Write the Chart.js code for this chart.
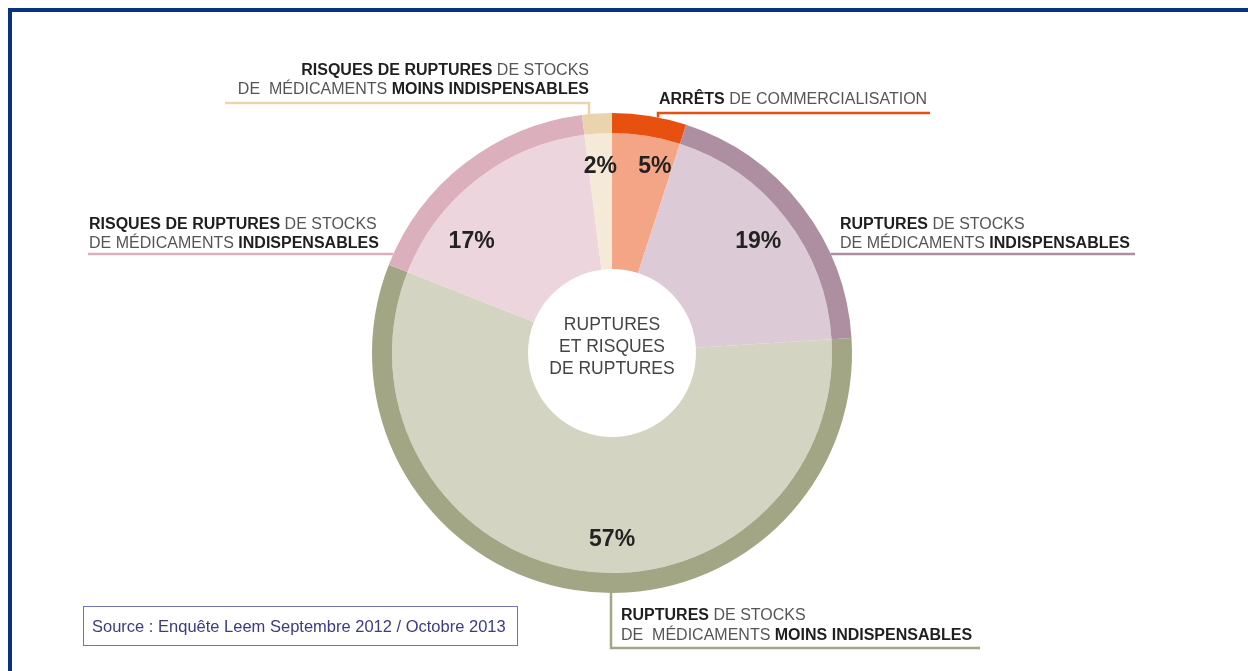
<!DOCTYPE html>
<html lang="fr">
<head>
<meta charset="utf-8">
<title>Ruptures et risques de ruptures</title>
<script src="https://cdn.jsdelivr.net/npm/chart.js@4.4.0/dist/chart.umd.min.js"></script>
<style>
  html, body { margin: 0; padding: 0; background: #fff; }
  #wrap { position: relative; width: 1248px; height: 671px; overflow: hidden; }
  #frame { position: absolute; left: 8px; top: 8px; right: -10px; bottom: -10px;
           border-top: 4px solid #08327f; border-left: 4px solid #08327f; pointer-events: none; }
  #source { position: absolute; left: 83px; top: 606px; width: 433px; height: 38px;
            border: 1.5px solid #7373b9; box-sizing: content-box;
            font: 16.5px Arial, "Liberation Sans", sans-serif; color: #3b3b86;
            line-height: 38px; text-indent: 8px; white-space: nowrap; }
</style>
</head>
<body>
<div id="wrap">
  <canvas id="graficoRuptures"></canvas>
  <div id="source">Source : Enquête Leem Septembre 2012 / Octobre 2013</div>
  <div id="frame"></div>
</div>
<script>
// données
const categories = [
  'Arrêts de commercialisation',
  'Ruptures de stocks de médicaments indispensables',
  'Ruptures de stocks de médicaments moins indispensables',
  'Risques de ruptures de stocks de médicaments indispensables',
  'Risques de ruptures de stocks de médicaments moins indispensables'
];
const parts = [5, 19, 57, 17, 2];
const centerLines = ['RUPTURES', 'ET RISQUES', 'DE RUPTURES'];

// textes des étiquettes : [texte, gras]
const calloutText = [
  [[['ARRÊTS', true], [' DE COMMERCIALISATION', false]]],
  [[['RUPTURES', true], [' DE STOCKS', false]], [['DE MÉDICAMENTS ', false], ['INDISPENSABLES', true]]],
  [[['RUPTURES', true], [' DE STOCKS', false]], [['DE  MÉDICAMENTS ', false], ['MOINS INDISPENSABLES', true]]],
  [[['RISQUES DE RUPTURES', true], [' DE STOCKS', false]], [['DE MÉDICAMENTS ', false], ['INDISPENSABLES', true]]],
  [[['RISQUES DE RUPTURES', true], [' DE STOCKS', false]], [['DE  MÉDICAMENTS ', false], ['MOINS INDISPENSABLES', true]]]
];

// couleurs
const outerColors = ['#e8500f', '#ad8fa1', '#a2a685', '#dcafbd', '#ead4ae'];
const innerColors = ['#f4a585', '#dccad6', '#d3d5c2', '#edd5dd', '#f5e9d7'];

// placement des étiquettes
const pctNudge = [[14, -4], [0, 2], [29, 4], [-27, 35], [0, -2]];
const callouts = [
  { x: 659, y: [104], align: 'left', path: g => [[930, 113], [658, 113], [658, g.top(658)]] },
  { x: 840, y: [229, 248], align: 'left', path: g => [[1135, 254], [g.right(254), 254]] },
  { x: 621, y: [620, 640], align: 'left', path: g => [[980, 648], [611, 648], [611, g.bottom(611)]] },
  { x: 89, y: [229, 248], align: 'left', path: g => [[88, 254], [g.left(254), 254]] },
  { x: 589, y: [75, 94], align: 'right', path: g => [[225, 103], [589, 103], [589, g.top(589)]] }
];

const FONT = 'Arial, "Liberation Sans", sans-serif';

function drawRich(ctx, line, x, y, align) {
  let total = 0;
  line.forEach(([t, b]) => {
    ctx.font = (b ? 'bold ' : '') + '16px ' + FONT;
    total += ctx.measureText(t).width;
  });
  let cx = align === 'right' ? x - total : x;
  line.forEach(([t, b]) => {
    ctx.font = (b ? 'bold ' : '') + '16px ' + FONT;
    ctx.fillStyle = b ? '#1f1f1f' : '#555555';
    ctx.fillText(t, cx, y);
    cx += ctx.measureText(t).width;
  });
}

const annotations = {
  id: 'annotations',
  afterDatasetsDraw(chart) {
    const ctx = chart.ctx;
    const inner = chart.getDatasetMeta(1).data;
    const outer = chart.getDatasetMeta(0).data;
    const cx = outer[0].x, cy = outer[0].y, R = outer[0].outerRadius;
    const g = {
      top: x => cy - Math.sqrt(R * R - (x - cx) ** 2),
      bottom: x => cy + Math.sqrt(R * R - (x - cx) ** 2),
      left: y => cx - Math.sqrt(R * R - (y - cy) ** 2),
      right: y => cx + Math.sqrt(R * R - (y - cy) ** 2)
    };
    ctx.save();

    // pourcentages
    ctx.font = 'bold 23px ' + FONT;
    ctx.fillStyle = '#222';
    ctx.textAlign = 'center';
    ctx.textBaseline = 'middle';
    inner.forEach((arc, i) => {
      const mid = (arc.startAngle + arc.endAngle) / 2;
      const r = 185;
      ctx.fillText(parts[i] + '%', cx + Math.cos(mid) * r + pctNudge[i][0], cy + Math.sin(mid) * r + pctNudge[i][1]);
    });

    // centre
    ctx.font = '17.5px ' + FONT;
    ctx.fillStyle = '#444';
    centerLines.forEach((t, k) => ctx.fillText(t, cx, cy - 28 + k * 22));

    // étiquettes et traits
    ctx.textAlign = 'left';
    ctx.textBaseline = 'alphabetic';
    callouts.forEach((c, i) => {
      calloutText[i].forEach((line, k) => drawRich(ctx, line, c.x, c.y[k], c.align));
      const pts = c.path(g);
      ctx.beginPath();
      ctx.moveTo(pts[0][0], pts[0][1]);
      pts.slice(1).forEach(p => ctx.lineTo(p[0], p[1]));
      ctx.strokeStyle = outerColors[i];
      ctx.lineWidth = 2.5;
      ctx.stroke();
    });
    ctx.restore();
  }
};

const canvas = document.getElementById('graficoRuptures');
canvas.width = 1248;
canvas.height = 671;
new Chart(canvas.getContext('2d'), {
  type: 'doughnut',
  data: {
    labels: categories,
    datasets: [
      { data: parts, backgroundColor: outerColors, borderWidth: 0, weight: 20 },
      { data: parts, backgroundColor: innerColors, borderWidth: 0, weight: 136 }
    ]
  },
  options: {
    responsive: false,
    animation: false,
    cutout: '35%',
    layout: { padding: { left: 372, top: 113, right: 396, bottom: 78 } },
    plugins: { legend: { display: false }, tooltip: { enabled: false } }
  },
  plugins: [annotations]
});
</script>
</body>
</html>
